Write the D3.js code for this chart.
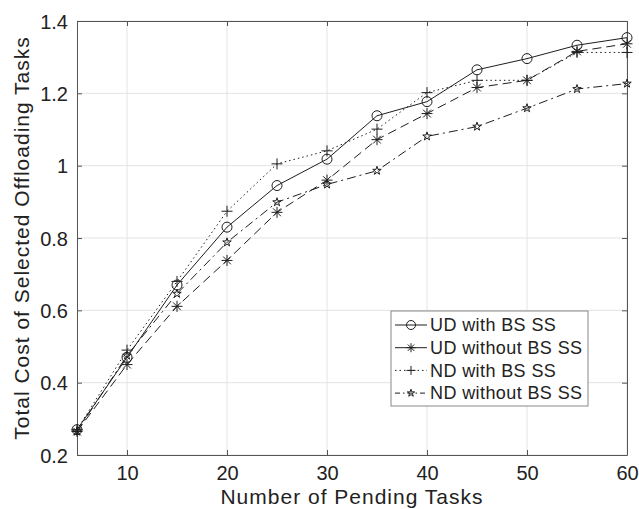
<!DOCTYPE html>
<html>
<head>
<meta charset="utf-8">
<script src="https://cdn.jsdelivr.net/npm/d3@7"></script>
<style>
  body { margin: 0; background: #fff; }
  text { font-family: "Liberation Sans", Arial, sans-serif; fill: #222; }
</style>
</head>
<body>
<div id="chart"></div>
<script>
// data
var tasks = [5, 10, 15, 20, 25, 30, 35, 40, 45, 50, 55, 60];
var udWithSS    = [0.27, 0.47, 0.67, 0.83, 0.945, 1.018, 1.138, 1.177, 1.265, 1.296, 1.333, 1.354];
var udWithoutSS = [0.265, 0.45, 0.611, 0.738, 0.871, 0.96, 1.072, 1.144, 1.216, 1.236, 1.316, 1.337];
var ndWithSS    = [0.27, 0.49, 0.68, 0.874, 1.005, 1.041, 1.101, 1.202, 1.236, 1.236, 1.313, 1.313];
var ndWithoutSS = [0.265, 0.475, 0.646, 0.788, 0.899, 0.948, 0.986, 1.081, 1.108, 1.159, 1.212, 1.227];
var seriesNames = ["UD with BS SS", "UD without BS SS", "ND with BS SS", "ND without BS SS"];
var xTicks = [10, 20, 30, 40, 50, 60];
var yTicks = [0.2, 0.4, 0.6, 0.8, 1, 1.2, 1.4];

var width = 639, height = 509;
var margin = { left: 77, right: 12, top: 21, bottom: 54 };
var innerW = width - margin.left - margin.right,
    innerH = height - margin.top - margin.bottom;

var svg = d3.select("#chart").append("svg")
  .attr("width", width).attr("height", height);

var x = d3.scaleLinear().domain([5, 60]).range([0, innerW]);
var y = d3.scaleLinear().domain([0.2, 1.4]).range([innerH, 0]);

var g = svg.append("g").attr("transform", "translate(" + margin.left + "," + margin.top + ")");

// grid
g.append("g").selectAll("line.gx").data(xTicks).enter().append("line")
  .attr("x1", d => x(d)).attr("x2", d => x(d))
  .attr("y1", 0).attr("y2", innerH)
  .attr("stroke", "#e3e3e3").attr("stroke-width", 1);
g.append("g").selectAll("line.gy").data(yTicks).enter().append("line")
  .attr("y1", d => y(d)).attr("y2", d => y(d))
  .attr("x1", 0).attr("x2", innerW)
  .attr("stroke", "#e3e3e3").attr("stroke-width", 1);

// axes, ticks pointing inward
var xAxis = g.append("g").attr("transform", "translate(0," + innerH + ")")
  .call(d3.axisBottom(x).tickValues(xTicks).tickSize(-5).tickPadding(11).tickSizeOuter(0));
var yAxis = g.append("g")
  .call(d3.axisLeft(y).tickValues(yTicks).tickSize(-5).tickPadding(9).tickSizeOuter(0)
    .tickFormat(d3.format("")));
g.append("g").call(d3.axisTop(x).tickValues(xTicks).tickSize(-5).tickFormat("").tickSizeOuter(0));
g.append("g").attr("transform", "translate(" + innerW + ",0)")
  .call(d3.axisRight(y).tickValues(yTicks).tickSize(-5).tickFormat("").tickSizeOuter(0));
g.selectAll(".domain").attr("stroke", "#555");
g.selectAll(".tick line").attr("stroke", "#555");
g.selectAll(".tick text").style("font-size", "20px").attr("fill", "#222");
yAxis.selectAll(".tick text").attr("dy", "0.35em");

// axis labels
svg.append("text")
  .attr("x", margin.left + innerW / 2).attr("y", 504)
  .attr("text-anchor", "middle").style("font-size", "21px").style("letter-spacing", "1px")
  .text("Number of Pending Tasks");
svg.append("text")
  .attr("transform", "translate(29," + (margin.top + innerH / 2) + ") rotate(-90)")
  .attr("text-anchor", "middle").style("font-size", "21px").style("letter-spacing", "1px")
  .text("Total Cost of Selected Offloading Tasks");

var ink = "#1e1e1e";
var dashes = ["none", "9,5", "1.5,3", "9,4,2,4"];
var allSeries = [udWithSS, udWithoutSS, ndWithSS, ndWithoutSS];

function marker(sel, kind, s) {
  var r = s / 2;
  if (kind === 0) {
    sel.append("circle").attr("r", r).attr("fill", "none").attr("stroke", ink).attr("stroke-width", 1);
  } else if (kind === 1) {
    var p = "";
    [0, 45, 90, 135].forEach(function(a) {
      var c = Math.cos(a * Math.PI / 180) * r, sn = Math.sin(a * Math.PI / 180) * r;
      p += "M" + (-c) + "," + (-sn) + "L" + c + "," + sn;
    });
    sel.append("path").attr("d", p).attr("stroke", ink).attr("stroke-width", 1).attr("fill", "none");
  } else if (kind === 2) {
    sel.append("path").attr("d", "M" + (-r) + ",0L" + r + ",0M0," + (-r) + "L0," + r)
      .attr("stroke", ink).attr("stroke-width", 1).attr("fill", "none");
  } else {
    sel.append("path").attr("d", d3.symbol(d3.symbolStar, s * s * 0.35)())
      .attr("stroke", ink).attr("stroke-width", 1).attr("fill", "none");
  }
}

var line = d3.line().x((d, i) => x(tasks[i])).y(d => y(d));
var sizes = [10, 11, 11, 8];

allSeries.forEach(function(vals, k) {
  g.append("path").datum(vals)
    .attr("d", line)
    .attr("fill", "none").attr("stroke", ink).attr("stroke-width", 1)
    .attr("stroke-dasharray", dashes[k]);
  g.append("g").selectAll("g").data(vals).enter().append("g")
    .attr("transform", (d, i) => "translate(" + x(tasks[i]) + "," + y(d) + ")")
    .each(function() { marker(d3.select(this), k, sizes[k]); });
});

// legend
var legendDash = ["none", "none", "1.5,3", "5,3,1.5,3"];
var lg = svg.append("g").attr("transform", "translate(391,311)");
lg.append("rect").attr("width", 197).attr("height", 95)
  .attr("fill", "#fff").attr("stroke", "#888").attr("stroke-width", 1);
seriesNames.forEach(function(name, k) {
  var row = lg.append("g").attr("transform", "translate(0," + (14 + k * 22.7) + ")");
  row.append("line").attr("x1", 4).attr("x2", 36).attr("y1", 0).attr("y2", 0)
    .attr("stroke", ink).attr("stroke-width", 1).attr("stroke-dasharray", legendDash[k]);
  var m = row.append("g").attr("transform", "translate(20,0)");
  marker(m, k, k === 3 ? 7 : 9);
  row.append("text").attr("x", 39).attr("y", 0).attr("dy", "0.35em")
    .style("font-size", "18px").style("letter-spacing", "0.4px").text(name);
});
</script>
</body>
</html>
